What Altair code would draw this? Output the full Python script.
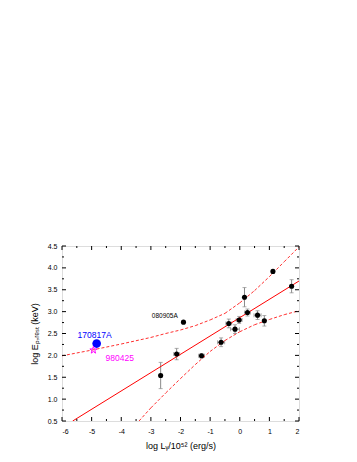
import altair as alt
import pandas as pd

# ---- data ----
pt_x = [-2.67, -2.13, -1.29, -1.90, -0.63, -0.37, -0.16, -0.02, 0.16, 0.26, 0.60, 0.83, 1.12, 1.75]
pt_y = [1.54, 2.03, 1.99, 2.76, 2.30, 2.73, 2.60, 2.81, 3.33, 2.98, 2.92, 2.79, 3.92, 3.58]
pt_xerr = [0.05, 0.10, 0.10, 0.0, 0.12, 0.10, 0.15, 0.10, 0.0, 0.10, 0.12, 0.05, 0.05, 0.05]
pt_yerr = [0.30, 0.13, 0.05, 0.03, 0.10, 0.10, 0.10, 0.08, 0.22, 0.08, 0.10, 0.12, 0.02, 0.15]

grb170817_x = [-4.83]
grb170817_y = [2.27]
grb980425_x = [-4.94]
grb980425_y = [2.12]

fit_x = [-5.64, 2.0]
fit_y = [0.50, 3.70]

upper_x = [-6, -5, -4, -3, -2.5, -2, -1.5, -1, -0.5, 0, 0.5, 1, 1.5, 2]
upper_y = [1.99, 2.12, 2.26, 2.41, 2.50, 2.58, 2.68, 2.81, 2.96, 3.20, 3.48, 3.80, 4.14, 4.48]
lower_x = [-3.4, -3, -2.5, -2, -1.5, -1, -0.5, 0, 0.5, 1, 1.5, 2]
lower_y = [0.50, 0.80, 1.14, 1.47, 1.79, 2.09, 2.34, 2.54, 2.70, 2.82, 2.93, 3.02]

label_text = ["080905A", "170817A", "980425"]
label_x = [-2.53, -4.90, -4.05]
label_y = [2.91, 2.46, 1.94]
label_color = ["black", "blue", "magenta"]
label_size = [6.5, 8.5, 8.5]

x_major = [-6, -5, -4, -3, -2, -1, 0, 1, 2]
x_minor = [-5.5, -4.5, -3.5, -2.5, -1.5, -0.5, 0.5, 1.5]
y_major = [0.5, 1.0, 1.5, 2.0, 2.5, 3.0, 3.5, 4.0, 4.5]
y_minor = [0.75, 1.25, 1.75, 2.25, 2.75, 3.25, 3.75, 4.25]

W, H = 237, 175
FONT = "Liberation Sans"
RED = "#ff3030"
STAR = ("M0,-1L0.2245,-0.309L0.951,-0.309L0.363,0.118L0.588,0.809L0,0.382"
        "L-0.588,0.809L-0.363,0.118L-0.951,-0.309L-0.2245,-0.309Z")

xs = alt.Scale(domain=[-6, 2], nice=False, zero=False)
ys = alt.Scale(domain=[0.5, 4.5], nice=False, zero=False)

AX = alt.Axis(
    orient="bottom", values=x_major, ticks=False, domain=False, grid=False,
    labelExpr="'' + datum.value", labelOverlap=False,
    labelFont=FONT, labelFontSize=7, labelPadding=6, labelColor="black",
    title="log Lᵧ/10⁵² (erg/s)", titleFont=FONT, titleFontSize=9, titleFontWeight="normal",
    titlePadding=7, titleColor="black")
AY = alt.Axis(
    orient="left", values=y_major, ticks=False, domain=False, grid=False, format=".1f",
    labelOverlap=False,
    labelFont=FONT, labelFontSize=7, labelPadding=5, labelColor="black",
    title="log Eₚ,ᵣₑₛₜ (keV)", titleFont=FONT, titleFontSize=9, titleFontWeight="normal",
    titlePadding=8, titleColor="black")


def ax(field):
    return alt.X(field, type="quantitative", scale=xs, axis=AX)


def ay(field):
    return alt.Y(field, type="quantitative", scale=ys, axis=AY)


pts = pd.DataFrame({"x": pt_x, "y": pt_y, "xe": pt_xerr, "ye": pt_yerr})
pts["xlo"] = pts.x - pts.xe
pts["xhi"] = pts.x + pts.xe
pts["ylo"] = pts.y - pts.ye
pts["yhi"] = pts.y + pts.ye
pts_xe = pts[pts.xe > 0]

gray = "#8a8a8a"
base = alt.Chart(pts)
yerr = base.mark_rule(color=gray, strokeWidth=1).encode(x=ax("x"), y=ay("ylo"), y2="yhi:Q")
ycap_lo = base.mark_tick(color=gray, orient="horizontal", size=4, thickness=1).encode(x=ax("x"), y=ay("ylo"))
ycap_hi = base.mark_tick(color=gray, orient="horizontal", size=4, thickness=1).encode(x=ax("x"), y=ay("yhi"))
basex = alt.Chart(pts_xe)
xerr = basex.mark_rule(color=gray, strokeWidth=1).encode(x=ax("xlo"), x2="xhi:Q", y=ay("y"))
xcap_lo = basex.mark_tick(color=gray, orient="vertical", size=4, thickness=1).encode(x=ax("xlo"), y=ay("y"))
xcap_hi = basex.mark_tick(color=gray, orient="vertical", size=4, thickness=1).encode(x=ax("xhi"), y=ay("y"))
dots = base.mark_point(filled=True, color="black", size=26, opacity=1).encode(x=ax("x"), y=ay("y"))

fit = alt.Chart(pd.DataFrame({"fx": fit_x, "fy": fit_y})).mark_line(
    color="#ff0000", strokeWidth=1, clip=True).encode(x=ax("fx"), y=ay("fy"))


def dashed_segments(xv, yv):
    # consecutive read-off points joined by dashed rule segments
    seg = pd.DataFrame({"a": xv[:-1], "b": yv[:-1], "a2": xv[1:], "b2": yv[1:]})
    return alt.Chart(seg).mark_rule(
        color=RED, strokeWidth=1, strokeDash=[3, 2], opacity=1).encode(
        x=ax("a"), y=ay("b"), x2="a2:Q", y2="b2:Q")


upper = dashed_segments(upper_x, upper_y)
lower = dashed_segments(lower_x, lower_y)

blue = alt.Chart(pd.DataFrame({"bx": grb170817_x, "by": grb170817_y})).mark_point(
    filled=True, color="#0000ff", size=75, opacity=1).encode(x=ax("bx"), y=ay("by"))
star = alt.Chart(pd.DataFrame({"sx": grb980425_x, "sy": grb980425_y})).mark_point(
    shape=STAR, filled=False, color="#ff00ff", size=55, strokeWidth=1, opacity=1).encode(
    x=ax("sx"), y=ay("sy"))

labels = alt.Chart(pd.DataFrame({"t": label_text, "tx": label_x, "ty": label_y,
                                 "c": label_color, "s": label_size})).mark_text(
    font=FONT, align="center", baseline="middle").encode(
    x=ax("tx"), y=ay("ty"), text="t:N",
    color=alt.Color("c:N", scale=None, legend=None), size=alt.Size("s:Q", scale=None, legend=None))


def xticks(vals, length):
    d = alt.Chart(pd.DataFrame({"v": vals}))
    b = d.mark_rule(color="black", strokeWidth=1).encode(
        x=ax("v"), y=alt.value(H), y2=alt.value(H - length))
    t = d.mark_rule(color="black", strokeWidth=1).encode(
        x=ax("v"), y=alt.value(0), y2=alt.value(length))
    return [b, t]


def yticks(vals, length):
    d = alt.Chart(pd.DataFrame({"v": vals}))
    l = d.mark_rule(color="black", strokeWidth=1).encode(
        y=ay("v"), x=alt.value(0), x2=alt.value(length))
    r = d.mark_rule(color="black", strokeWidth=1).encode(
        y=ay("v"), x=alt.value(W), x2=alt.value(W - length))
    return [l, r]


tick_layers = xticks(x_major, 4) + xticks(x_minor, 2) + yticks(y_major, 4) + yticks(y_minor, 2)

chart = alt.layer(
    yerr, ycap_lo, ycap_hi, xerr, xcap_lo, xcap_hi,
    fit, upper, lower, dots, blue, star, labels, *tick_layers
).properties(
    width=W, height=H,
    autosize=alt.AutoSizeParams(type="none"),
    padding={"left": 54, "top": 238, "right": 50, "bottom": 34},
).configure_view(stroke="black", strokeWidth=1).configure(background="white")

chart.save("out.html", embed_options={"renderer": "svg", "actions": False})
